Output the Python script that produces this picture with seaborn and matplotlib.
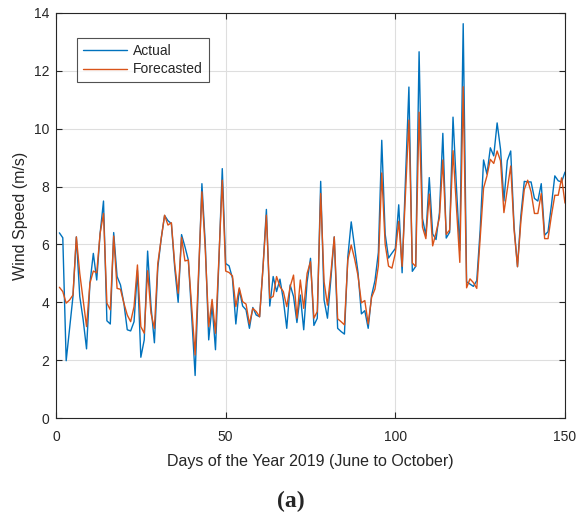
import numpy as np
import pandas as pd
import matplotlib
matplotlib.use("Agg")
import matplotlib.pyplot as plt
import seaborn as sns

days = list(range(1, 151))

actual = [
    6.40, 6.23, 1.98, 3.10, 4.20, 6.26, 4.20, 3.40, 2.39, 4.66,
    5.69, 4.77, 6.38, 7.50, 3.36, 3.25, 6.41, 4.89, 4.60, 3.97,
    3.05, 3.01, 3.33, 5.10, 2.10, 2.70, 5.77, 3.85, 2.60, 5.20,
    6.20, 7.00, 6.82, 6.72, 5.17, 4.00, 6.34, 5.92, 5.46, 3.50,
    1.47, 4.80, 8.10, 6.00, 2.70, 3.90, 2.36, 5.40, 8.62, 5.34,
    5.26, 4.83, 3.25, 4.45, 3.87, 3.74, 3.10, 3.82, 3.56, 3.50,
    5.20, 7.21, 3.87, 4.89, 4.37, 4.80, 4.08, 3.10, 4.60, 4.20,
    3.30, 4.25, 3.05, 4.71, 5.52, 3.20, 3.45, 8.18, 4.08, 3.45,
    4.80, 6.26, 3.10, 2.99, 2.90, 5.57, 6.78, 5.90, 5.03, 3.60,
    3.71, 3.10, 4.23, 4.75, 5.72, 9.60, 6.36, 5.53, 5.70, 5.86,
    7.37, 5.02, 8.30, 11.44, 5.07, 5.24, 12.66, 6.90, 6.30, 8.31,
    6.36, 6.17, 7.10, 9.84, 6.22, 6.42, 10.40, 8.00, 5.80, 13.63,
    4.71, 4.63, 4.55, 4.75, 6.50, 8.92, 8.43, 9.34, 9.06, 10.20,
    9.29, 7.50, 8.90, 9.23, 6.60, 5.23, 7.00, 8.18, 8.16, 8.16,
    7.59, 7.50, 8.10, 6.32, 6.44, 7.36, 8.37, 8.20, 8.16, 8.50,
]

forecasted = [
    4.52, 4.37, 3.97, 4.08, 4.25, 6.26, 5.00, 4.08, 3.16, 4.66,
    5.08, 5.02, 6.38, 7.07, 3.97, 3.74, 6.29, 4.48, 4.45, 3.97,
    3.56, 3.33, 3.85, 5.29, 3.16, 2.93, 5.09, 3.62, 3.10, 5.34,
    6.20, 7.01, 6.67, 6.75, 5.30, 4.31, 6.24, 5.43, 5.46, 3.80,
    2.18, 5.00, 7.82, 5.80, 3.16, 4.10, 2.93, 5.50, 8.22, 5.08,
    5.03, 4.91, 3.85, 4.50, 4.02, 3.94, 3.25, 3.79, 3.68, 3.50,
    5.20, 7.01, 4.14, 4.20, 4.89, 4.54, 4.37, 3.85, 4.54, 4.94,
    3.45, 4.77, 3.79, 5.00, 5.40, 3.45, 3.68, 7.76, 4.71, 3.90,
    5.00, 6.26, 3.43, 3.33, 3.22, 5.46, 5.98, 5.50, 4.92, 3.98,
    4.06, 3.25, 4.17, 4.46, 5.26, 8.47, 6.01, 5.25, 5.18, 5.70,
    6.80, 5.24, 7.80, 10.30, 5.36, 5.24, 10.57, 6.60, 6.20, 7.74,
    5.95, 6.41, 6.93, 8.92, 6.35, 6.50, 9.24, 7.30, 5.38, 11.45,
    4.50, 4.81, 4.68, 4.48, 6.20, 7.95, 8.37, 8.94, 8.80, 9.23,
    8.89, 7.10, 7.90, 8.71, 6.50, 5.23, 6.80, 7.90, 8.22, 7.82,
    7.07, 7.07, 7.76, 6.20, 6.20, 7.00, 7.70, 7.70, 8.30, 7.43,
]

series_names = ["Actual", "Forecasted"]
x_ticks = [0, 50, 100, 150]
y_ticks = [0, 2, 4, 6, 8, 10, 12, 14]

df = pd.DataFrame({
    "day": days * 2,
    "speed": actual + forecasted,
    "series": [series_names[0]] * len(days) + [series_names[1]] * len(days),
})

sns.set_style("white")
plt.rcParams["font.family"] = ["Liberation Sans", "DejaVu Sans"]

fig = plt.figure(figsize=(5.79, 5.14), dpi=100)
ax = fig.add_axes([56 / 579, 1 - 418 / 514, (565 - 56) / 579, (418 - 13) / 514])

sns.lineplot(data=df, x="day", y="speed", hue="series",
             palette={"Actual": "#0072BD", "Forecasted": "#D95319"},
             linewidth=1.0, ax=ax, legend=True)

ax.set_xlim(0, 150)
ax.set_ylim(0, 14)
ax.set_xticks(x_ticks)
ax.set_yticks(y_ticks)
ax.grid(True, color="#dedede", linewidth=0.8)
ax.set_axisbelow(True)
for s in ax.spines.values():
    s.set_visible(True)
    s.set_color("#262626")
    s.set_linewidth(0.8)
ax.tick_params(direction="in", length=4, width=0.8, colors="#262626",
               labelsize=10, top=True, right=True, bottom=True, left=True,
               labelcolor="#262626")
ax.tick_params(axis="x", pad=8.5)
ax.tick_params(axis="y", pad=5)
ax.set_xlabel("Days of the Year 2019 (June to October)", fontsize=11.5,
              color="#262626", labelpad=7)
ax.set_ylabel("Wind Speed (m/s)", fontsize=11.5, color="#262626", labelpad=4)

leg = ax.legend(loc="upper left", bbox_to_anchor=(0.0407, 0.939), fontsize=10,
                frameon=True, fancybox=False, edgecolor="#262626",
                handlelength=3.2, borderpad=0.42, labelspacing=0.35,
                handletextpad=0.45, borderaxespad=0)
leg.get_frame().set_linewidth(0.8)
for t in leg.get_texts():
    t.set_color("#262626")

fig.text(291 / 579, 1 - 501 / 514, "(a)", ha="center", va="center",
         fontsize=17, fontweight="bold", family=["Liberation Serif", "DejaVu Serif"])

fig.savefig("out.png", dpi=100)
